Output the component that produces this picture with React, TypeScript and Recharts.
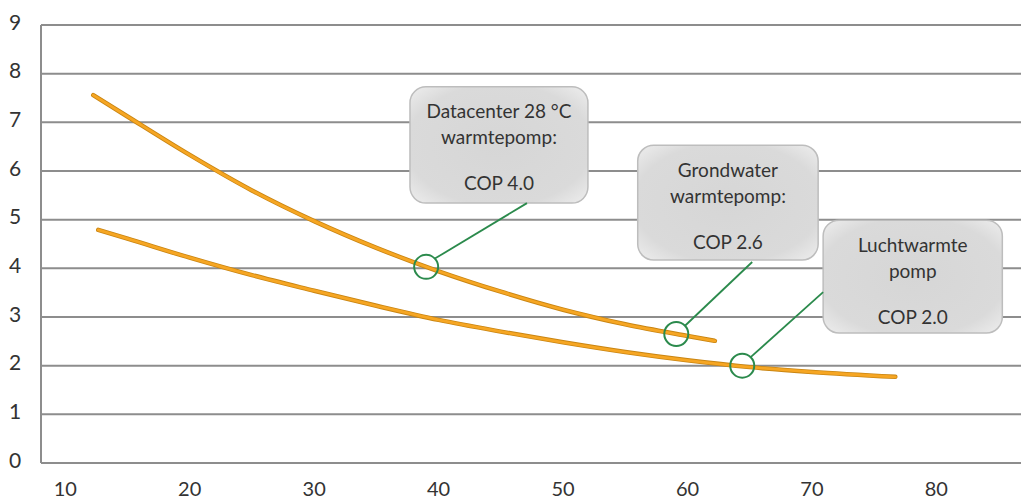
import {
  CartesianGrid,
  Line,
  LineChart,
  ReferenceArea,
  ReferenceDot,
  ReferenceLine,
  XAxis,
  YAxis,
} from 'recharts'

// datacenter heat pump (28 °C source)
const upperX = [12.25, 15, 20, 25, 30, 35, 40, 45, 50, 55, 60, 62.2]
const upperCop = [7.56, 7.12, 6.33, 5.6, 4.97, 4.42, 3.94, 3.52, 3.15, 2.85, 2.61, 2.51]

// air / ground water heat pump
const lowerX = [12.65, 15, 20, 25, 30, 35, 40, 45, 50, 55, 60, 65, 70, 76.7]
const lowerCop = [4.79, 4.61, 4.22, 3.86, 3.54, 3.23, 2.94, 2.7, 2.48, 2.28, 2.11, 1.97, 1.87, 1.77]

const xTicks = [10, 20, 30, 40, 50, 60, 70, 80]
const yTicks = [0, 1, 2, 3, 4, 5, 6, 7, 8, 9]

const calloutLines = [
  ['Datacenter 28 °C', 'warmtepomp:', 'COP 4.0'],
  ['Grondwater', 'warmtepomp:', 'COP 2.6'],
  ['Luchtwarmte', 'pomp', 'COP 2.0'],
]
// [x1, x2, y1, y2] in data units
const calloutBoxes = [
  [37.7, 52.0, 5.34, 7.73],
  [56.0, 70.5, 4.17, 6.53],
  [70.9, 85.3, 2.67, 4.99],
]
const calloutPoints = [
  [39.0, 4.03],
  [59.1, 2.65],
  [64.4, 2.0],
]
// connector: from box edge to circle edge
const calloutLinks = [
  [[47.1, 5.34], [39.7, 4.2]],
  [[65.2, 4.13], [59.8, 2.82]],
  [[70.9, 3.51], [65.1, 2.18]],
]

const upper = upperX.map((x, i) => ({ x, y: upperCop[i] }))
const lower = lowerX.map((x, i) => ({ x, y: lowerCop[i] }))

const FONT = 'Lato, "Open Sans", sans-serif'
const GREEN = '#2b8a4c'

function XTick({ x, y, payload }: any) {
  return (
    <text x={x} y={y + 17} textAnchor="middle" dominantBaseline="central" fontSize={20} fill="#333" fontFamily={FONT}>
      {payload.value}
    </text>
  )
}

function YTick({ x, y, payload }: any) {
  return (
    <text x={x - 18} y={y - 4} textAnchor="middle" dominantBaseline="central" fontSize={21} fill="#333" fontFamily={FONT}>
      {payload.value}
    </text>
  )
}

function calloutShape(idx: number) {
  return (props: any) => {
    const { x, y, width, height } = props
    const id = `box-grad-${idx}`
    const lines = calloutLines[idx]
    const cx = x + width / 2
    return (
      <g>
        <defs>
          <radialGradient id={id} cx="50%" cy="50%" r="65%">
            <stop offset="0%" stopColor="#d6d6d6" />
            <stop offset="80%" stopColor="#dadada" />
            <stop offset="100%" stopColor="#e8e8e8" />
          </radialGradient>
        </defs>
        <rect x={x} y={y} width={width} height={height} rx={16} ry={16} fill={`url(#${id})`} stroke="#bdbdbd" strokeWidth={1.5} />
        {[24, 50, 96].map((dy, i) => (
          <text key={i} x={cx} y={y + dy} textAnchor="middle" dominantBaseline="central" fontSize={19} fill="#333" fontFamily={FONT}>
            {lines[i]}
          </text>
        ))}
      </g>
    )
  }
}

export default function App() {
  return (
    <div style={{ position: 'absolute', left: 0, top: 0, width: 1021, height: 499, background: '#fff' }}>
      <LineChart width={1021} height={499} margin={{ top: 25, right: 0, bottom: 0, left: 0 }}>
        <CartesianGrid vertical={false} stroke="#8d8d8d" strokeWidth={2} />
        <XAxis
          type="number"
          dataKey="x"
          domain={[8.05, 86.8]}
          ticks={xTicks}
          allowDataOverflow
          axisLine={false}
          tickLine={false}
          height={36}
          tick={<XTick />}
        />
        <YAxis
          type="number"
          dataKey="y"
          domain={[0, 9]}
          ticks={yTicks}
          width={41}
          axisLine={{ stroke: '#8d8d8d', strokeWidth: 2 }}
          tickLine={false}
          tick={<YTick />}
        />
        <Line data={upper} dataKey="y" type="monotone" stroke="#c98512" strokeWidth={4.5} dot={false} strokeLinecap="round" isAnimationActive={false} />
        <Line data={upper} dataKey="y" type="monotone" stroke="#f6a623" strokeWidth={2.8} dot={false} strokeLinecap="round" isAnimationActive={false} />
        <Line data={lower} dataKey="y" type="monotone" stroke="#c98512" strokeWidth={4.5} dot={false} strokeLinecap="round" isAnimationActive={false} />
        <Line data={lower} dataKey="y" type="monotone" stroke="#f6a623" strokeWidth={2.8} dot={false} strokeLinecap="round" isAnimationActive={false} />
        {calloutLinks.map((seg, i) => (
          <ReferenceLine
            key={`link-${i}`}
            segment={[{ x: seg[0][0], y: seg[0][1] }, { x: seg[1][0], y: seg[1][1] }]}
            stroke={GREEN}
            strokeWidth={1.8}
          />
        ))}
        {calloutPoints.map((p, i) => (
          <ReferenceDot key={`dot-${i}`} x={p[0]} y={p[1]} r={12} fill="none" stroke={GREEN} strokeWidth={2} />
        ))}
        {calloutBoxes.map((b, i) => (
          <ReferenceArea key={`box-${i}`} x1={b[0]} x2={b[1]} y1={b[2]} y2={b[3]} ifOverflow="visible" shape={calloutShape(i)} />
        ))}
      </LineChart>
    </div>
  )
}
